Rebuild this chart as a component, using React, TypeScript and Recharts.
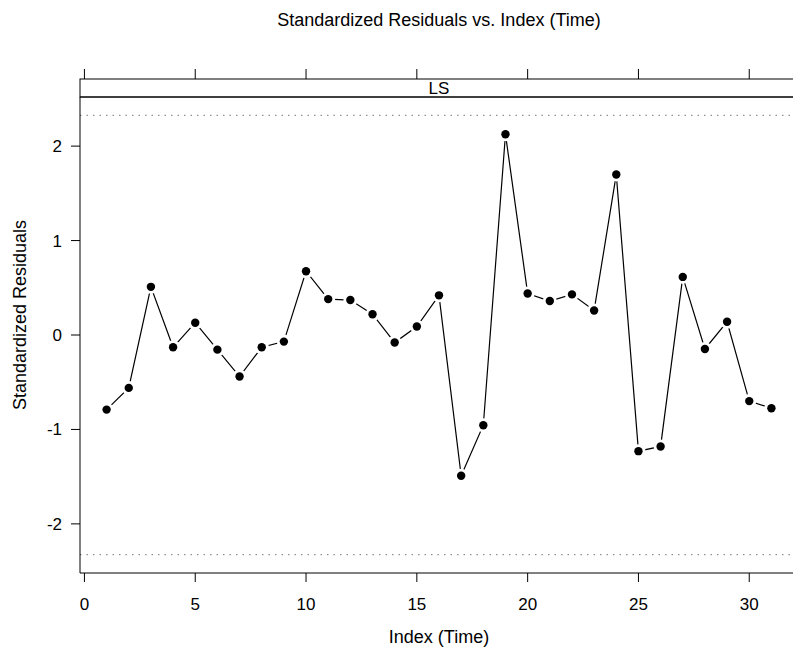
import React from 'react';
import { ComposedChart, Line, XAxis, YAxis, ReferenceLine } from 'recharts';

// Standardized residuals of the LS fit, one per time index
const timeIndex = [
  1, 2, 3, 4, 5, 6, 7, 8, 9, 10, 11, 12, 13, 14, 15, 16,
  17, 18, 19, 20, 21, 22, 23, 24, 25, 26, 27, 28, 29, 30, 31,
];
const residuals = [
  -0.79, -0.56, 0.51, -0.13, 0.13, -0.155, -0.44, -0.13, -0.07, 0.675, 0.38, 0.37, 0.22, -0.08, 0.09, 0.42,
  -1.49, -0.955, 2.125, 0.44, 0.36, 0.43, 0.26, 1.7, -1.23, -1.18, 0.615, -0.148, 0.14, -0.7, -0.775,
];
const xTicks = [0, 5, 10, 15, 20, 25, 30];
const yTicks = [-2, -1, 0, 1, 2];
const cutoff = 2.326; // 99% normal quantile
const stripLabel = 'LS';

const font = '"Liberation Sans", Arial, Helvetica, sans-serif';

const W = 820;
const H = 649;
const M = { top: 69, right: 22, bottom: 0, left: 0 };
const Y_W = 80;
const X_H = 76;
const TOP_H = 28;
const STRIP_H = 18;

const chartData = timeIndex.map((t, i) => ({ t, res: residuals[i] }));

const plotLeft = M.left + Y_W;
const plotRight = W - M.right;
const plotTop = M.top + TOP_H;

const Dot = (props: any) => {
  const { cx, cy, index } = props;
  if (cx == null || cy == null) return null;
  return (
    <g key={`d${index}`}>
      <circle cx={cx} cy={cy} r={7} fill="#fff" />
      <circle cx={cx} cy={cy} r={4.2} fill="#000" />
    </g>
  );
};

const TopTick = (props: any) => {
  const { x } = props;
  return <line x1={x} x2={x} y1={M.top} y2={plotTop - STRIP_H} stroke="#000" />;
};

const YLabel = (props: any) => {
  const vb = props.viewBox || {};
  const cx = 20;
  const cy = vb.y + vb.height / 2 - 20;
  return (
    <text
      x={cx}
      y={cy}
      transform={`rotate(-90 ${cx} ${cy})`}
      textAnchor="middle"
      dominantBaseline="central"
      fontSize={18}
      fontFamily={font}
      fill="#000"
    >
      Standardized Residuals
    </text>
  );
};

export default function App() {
  return (
    <div style={{ position: 'absolute', left: 0, top: 0, width: 793, height: H, overflow: 'hidden', background: '#fff' }}>
      <div
        style={{
          position: 'absolute',
          left: plotLeft,
          width: plotRight - plotLeft,
          top: 10,
          textAlign: 'center',
          fontFamily: font,
          fontSize: 18,
          color: '#000',
        }}
      >
        Standardized Residuals vs. Index (Time)
      </div>
      <ComposedChart width={W} height={H} data={chartData} margin={M} style={{ fontFamily: font }}>
        <XAxis
          dataKey="t"
          type="number"
          domain={[-0.2, 32.2]}
          ticks={xTicks}
          height={X_H}
          tickSize={9}
          tickMargin={16}
          axisLine={{ stroke: '#000' }}
          tickLine={{ stroke: '#000' }}
          tick={{ fontSize: 17, fill: '#000' }}
          label={{ value: 'Index (Time)', position: 'insideBottom', offset: 6, fontSize: 18, fill: '#000' }}
        />
        <XAxis
          xAxisId="top"
          dataKey="t"
          type="number"
          orientation="top"
          domain={[-0.2, 32.2]}
          ticks={xTicks}
          height={TOP_H}
          axisLine={{ stroke: '#000' }}
          tickLine={false}
          tick={<TopTick />}
        />
        <YAxis
          type="number"
          domain={[-2.52, 2.52]}
          ticks={yTicks}
          width={Y_W}
          tickSize={9}
          tickMargin={9}
          axisLine={{ stroke: '#000' }}
          tickLine={{ stroke: '#000' }}
          tick={{ fontSize: 17, fill: '#000' }}
          label={<YLabel />}
        />
        <ReferenceLine y={cutoff} stroke="#777" strokeDasharray="1.5 5" />
        <ReferenceLine y={-cutoff} stroke="#777" strokeDasharray="1.5 5" />
        <Line
          dataKey="res"
          type="linear"
          stroke="#000"
          strokeWidth={1.2}
          dot={<Dot />}
          activeDot={false}
          isAnimationActive={false}
        />
        <g>
          <rect
            x={plotLeft}
            y={plotTop - STRIP_H}
            width={plotRight - plotLeft}
            height={STRIP_H}
            fill="none"
            stroke="#000"
          />
          <text
            x={(plotLeft + plotRight) / 2}
            y={plotTop - STRIP_H / 2}
            textAnchor="middle"
            dominantBaseline="central"
            fontSize={17}
            fontFamily={font}
            fill="#000"
          >
            {stripLabel}
          </text>
        </g>
      </ComposedChart>
    </div>
  );
}
